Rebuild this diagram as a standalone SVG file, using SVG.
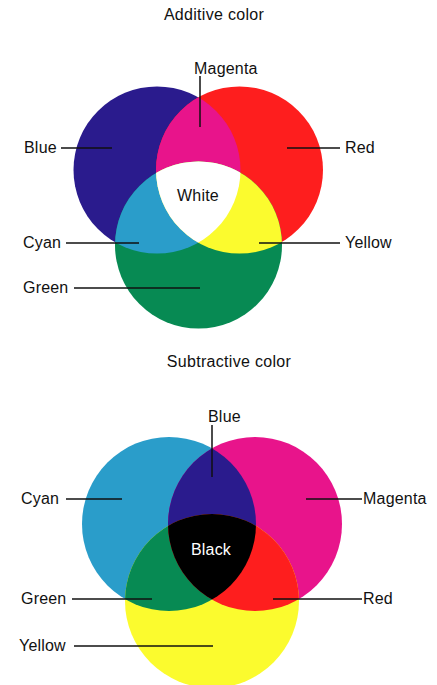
<svg xmlns="http://www.w3.org/2000/svg" width="437" height="685" viewBox="0 0 437 685">
<style>
text{font-family:"Liberation Sans",Arial,sans-serif;font-size:16px;letter-spacing:0.2px;fill:#111}
.title{font-size:16px;letter-spacing:0.3px}
.lead{stroke:#111;stroke-width:1.5;fill:none}
</style>
<defs>
<clipPath id="cBlueA"><circle cx="157" cy="170" r="83.5"/></clipPath>
<clipPath id="cRedA"><circle cx="239.5" cy="170" r="83.5"/></clipPath>
<clipPath id="cCyanS"><circle cx="169" cy="524" r="87"/></clipPath>
<clipPath id="cMagS"><circle cx="255" cy="524" r="87"/></clipPath>
</defs>
<rect width="437" height="685" fill="#fff"/>

<text class="title" x="214" y="20" text-anchor="middle">Additive color</text>
<g id="add-blue"><circle cx="157" cy="170" r="83.5" fill="#2a1b8d"/></g>
<g id="add-red"><circle cx="239.5" cy="170" r="83.5" fill="#fe1e1e"/></g>
<g id="add-green"><circle cx="198.5" cy="245" r="83.5" fill="#078a53"/></g>
<g id="add-magenta" clip-path="url(#cBlueA)"><circle cx="239.5" cy="170" r="83.5" fill="#e8148b"/></g>
<g id="add-cyan" clip-path="url(#cBlueA)"><circle cx="198.5" cy="245" r="83.5" fill="#2a9dca"/></g>
<g id="add-yellow" clip-path="url(#cRedA)"><circle cx="198.5" cy="245" r="83.5" fill="#fbfb2e"/></g>
<g id="add-white" clip-path="url(#cBlueA)"><g clip-path="url(#cRedA)"><circle cx="198.5" cy="245" r="83.5" fill="#ffffff"/></g></g>

<text class="title" x="229" y="367" text-anchor="middle">Subtractive color</text>
<g id="sub-cyan"><circle cx="169" cy="524" r="87" fill="#2a9dca"/></g>
<g id="sub-magenta"><circle cx="255" cy="524" r="87" fill="#e8148b"/></g>
<g id="sub-yellow"><circle cx="212" cy="601" r="87" fill="#fbfb2e"/></g>
<g id="sub-blue" clip-path="url(#cCyanS)"><circle cx="255" cy="524" r="87" fill="#2a1b8d"/></g>
<g id="sub-green" clip-path="url(#cCyanS)"><circle cx="212" cy="601" r="87" fill="#078a53"/></g>
<g id="sub-red" clip-path="url(#cMagS)"><circle cx="212" cy="601" r="87" fill="#fe1e1e"/></g>
<g id="sub-black" clip-path="url(#cCyanS)"><g clip-path="url(#cMagS)"><circle cx="212" cy="601" r="87" fill="#000000"/></g></g>

<g id="connectors">
<line class="lead" x1="200" y1="76" x2="200" y2="127"/>
<line class="lead" x1="61" y1="148" x2="112" y2="148"/>
<line class="lead" x1="287" y1="148" x2="340" y2="148"/>
<line class="lead" x1="66" y1="243" x2="139" y2="243"/>
<line class="lead" x1="259" y1="243" x2="340" y2="243"/>
<line class="lead" x1="74" y1="288" x2="200" y2="288"/>
<line class="lead" x1="212" y1="425" x2="212" y2="477"/>
<line class="lead" x1="66" y1="499" x2="122" y2="499"/>
<line class="lead" x1="306" y1="499" x2="362" y2="499"/>
<line class="lead" x1="72" y1="599" x2="152" y2="599"/>
<line class="lead" x1="273" y1="599" x2="362" y2="599"/>
<line class="lead" x1="74" y1="646" x2="213" y2="646"/>
</g>

<g id="labels-add">
<text x="194" y="74">Magenta</text>
<text x="24" y="153">Blue</text>
<text x="345" y="153">Red</text>
<text x="198" y="201" text-anchor="middle">White</text>
<text x="23" y="248">Cyan</text>
<text x="345" y="248">Yellow</text>
<text x="23" y="293">Green</text>
</g>
<g id="labels-sub">
<text x="208" y="422">Blue</text>
<text x="21" y="504">Cyan</text>
<text x="363" y="504">Magenta</text>
<text x="211" y="555" text-anchor="middle" style="fill:#fff">Black</text>
<text x="21" y="604">Green</text>
<text x="363" y="604">Red</text>
<text x="19" y="651">Yellow</text>
</g>
</svg>
